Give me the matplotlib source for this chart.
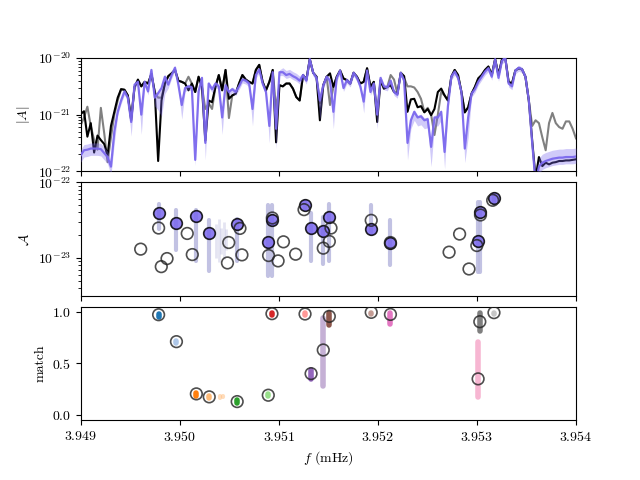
import numpy as np
import matplotlib
matplotlib.use('Agg')
import matplotlib.pyplot as plt
from matplotlib.ticker import FuncFormatter

plt.rcParams['mathtext.fontset'] = 'cm'
plt.rcParams['font.family'] = 'serif'
plt.rcParams['font.serif'] = ['cmr10']
plt.rcParams['axes.unicode_minus'] = False
plt.rcParams['axes.formatter.use_mathtext'] = True

# ---------------- data ----------------
# frequency bins (mHz)
freq = np.linspace(3.949, 3.954, 148)

# log10 |A| of data (black), alternative (gray), posterior median (purple)
black_log = [
 -20.99, -20.94, -21.39, -21.15, -21.67, -21.37, -21.45, -21.52, -21.72, -21.20,
 -20.95, -20.70, -20.55, -20.56, -20.66, -21.10, -20.51, -20.38, -20.50, -20.42,
 -20.45, -20.28, -20.60, -21.82, -20.75, -20.45, -20.32, -20.27, -20.21, -20.40,
 -20.42, -20.45, -20.57, -20.45, -20.60, -20.33, -20.51, -21.46, -20.75, -20.78,
 -20.51, -20.30, -20.57, -20.21, -20.72, -20.66, -20.63, -20.45, -20.30, -20.38,
 -20.42, -20.45, -20.21, -20.12, -20.42, -20.57, -20.42, -20.21, -21.49, -20.48,
 -20.50, -20.45, -20.45, -20.54, -20.69, -20.75, -20.30, -20.38, -20.02, -20.26,
 -20.33, -21.10, -20.48, -20.33, -20.27, -20.51, -20.33, -20.22, -20.36, -20.39,
 -20.45, -20.26, -20.33, -20.45, -20.42, -20.18, -20.51, -20.42, -21.13, -20.39,
 -20.54, -20.51, -20.48, -20.60, -20.63, -20.26, -20.32, -20.95, -20.73, -20.72,
 -20.87, -20.85, -20.96, -20.90, -21.01, -20.90, -20.60, -20.54, -20.66, -20.75,
 -20.33, -20.21, -20.30, -20.60, -20.96, -20.87, -20.63, -20.51, -20.36, -20.30,
 -20.21, -20.15, -20.30, -20.02, -20.30, -20.03, -19.99, -20.42, -20.45, -20.22,
 -20.18, -20.20, -20.33, -20.75, -21.46, -22.12, -21.75, -21.91, -21.85, -21.88,
 -21.85, -21.84, -21.82, -21.82, -21.81, -21.81, -21.80, -21.79]

gray_log = [
 -21.19, -21.05, -20.86, -21.20, -21.45, -21.62, -20.88, -21.33, -21.84, -21.40,
 -21.00, -20.75, -20.55, -20.56, -20.66, -21.05, -20.51, -20.40, -20.50, -20.42,
 -20.45, -20.28, -20.60, -20.70, -20.70, -20.45, -20.32, -20.27, -20.21, -20.40,
 -20.42, -20.45, -20.33, -20.45, -20.60, -20.33, -20.51, -20.90, -20.80, -20.90,
 -20.51, -20.30, -20.57, -20.21, -21.06, -20.66, -20.63, -20.45, -20.30, -20.38,
 -20.42, -20.45, -20.21, -20.12, -20.42, -20.57, -20.42, -20.21, -20.90, -20.48,
 -20.50, -20.45, -20.45, -20.54, -20.69, -20.75, -20.30, -20.38, -20.02, -20.26,
 -20.33, -20.80, -20.48, -20.33, -20.83, -20.51, -20.33, -20.22, -20.36, -20.39,
 -20.45, -20.26, -20.33, -20.45, -20.42, -20.18, -20.51, -20.42, -20.95, -20.39,
 -20.54, -20.51, -20.30, -20.38, -20.63, -20.26, -20.35, -20.50, -20.50, -20.52,
 -20.60, -20.72, -20.95, -20.88, -21.00, -21.36, -21.00, -20.60, -20.66, -20.75,
 -20.33, -20.21, -20.30, -20.60, -20.96, -20.87, -20.63, -20.51, -20.36, -20.30,
 -20.21, -20.15, -20.30, -20.02, -20.30, -20.03, -19.99, -20.42, -20.45, -20.22,
 -20.18, -20.20, -20.33, -20.75, -21.20, -21.10, -21.15, -21.40, -21.63, -21.15,
 -20.97, -21.15, -21.22, -21.25, -21.12, -21.12, -21.25, -21.42]

purple_log = [
 -21.72, -21.63, -21.62, -21.60, -21.60, -21.60, -21.61, -21.68, -21.75, -21.92,
 -21.30, -20.95, -20.75, -20.59, -20.70, -21.13, -20.47, -20.42, -21.00, -20.42,
 -20.59, -20.21, -20.70, -20.62, -20.53, -20.33, -20.47, -20.30, -20.17, -20.47,
 -20.83, -20.53, -20.50, -20.52, -21.80, -20.59, -20.35, -21.50, -20.45, -20.55,
 -20.45, -20.50, -21.05, -20.48, -20.60, -20.55, -20.60, -20.50, -20.38, -20.40,
 -20.45, -20.90, -20.30, -20.20, -20.45, -20.60, -21.20, -20.25, -21.25, -20.25,
 -20.25, -20.30, -20.28, -20.32, -20.35, -20.40, -20.30, -20.40, -20.02, -20.26,
 -20.35, -20.75, -20.48, -20.33, -20.40, -20.95, -20.35, -20.22, -20.53, -20.39,
 -20.45, -20.26, -20.35, -20.50, -20.77, -20.22, -20.60, -20.45, -21.00, -20.35,
 -20.50, -20.52, -20.40, -20.60, -20.65, -20.26, -20.40, -21.50, -21.10, -20.95,
 -21.05, -21.03, -21.10, -21.08, -21.57, -21.05, -21.05, -20.95, -21.66, -20.85,
 -20.33, -20.24, -20.35, -20.60, -21.60, -21.05, -20.63, -20.55, -20.42, -20.33,
 -20.24, -20.18, -20.33, -20.02, -20.35, -20.05, -19.99, -20.45, -20.50, -20.22,
 -20.17, -20.20, -20.33, -20.75, -21.50, -22.20, -21.92, -21.85, -21.82, -21.80,
 -21.78, -21.77, -21.76, -21.76, -21.75, -21.75, -21.75, -21.74]

# posterior band extent (dex below / above the median)
purple_dn = [
 0.12, 0.12, 0.12, 0.12, 0.12, 0.12, 0.12, 0.12, 0.12, 0.15,
 0.20, 0.06, 0.06, 0.06, 0.06, 0.25, 0.06, 0.06, 0.35, 0.06,
 0.06, 0.06, 0.15, 0.30, 0.50, 0.30, 0.06, 0.06, 0.06, 0.06,
 0.25, 0.06, 0.06, 0.06, 0.10, 0.06, 0.06, 0.30, 0.06, 0.06,
 0.06, 0.06, 0.30, 0.06, 0.06, 0.06, 0.06, 0.06, 0.06, 0.06,
 0.06, 0.30, 0.06, 0.06, 0.06, 0.06, 0.30, 0.06, 0.35, 0.06,
 0.06, 0.06, 0.06, 0.06, 0.06, 0.06, 0.06, 0.06, 0.06, 0.06,
 0.06, 0.35, 0.06, 0.06, 0.06, 0.30, 0.06, 0.06, 0.06, 0.06,
 0.06, 0.06, 0.06, 0.06, 0.20, 0.06, 0.06, 0.06, 0.25, 0.06,
 0.06, 0.06, 0.06, 0.06, 0.06, 0.06, 0.06, 0.30, 0.15, 0.15,
 0.15, 0.15, 0.15, 0.15, 0.35, 0.15, 0.15, 0.15, 0.30, 0.06,
 0.06, 0.06, 0.06, 0.06, 0.25, 0.35, 0.06, 0.06, 0.06, 0.06,
 0.06, 0.06, 0.06, 0.06, 0.06, 0.06, 0.06, 0.06, 0.06, 0.06,
 0.06, 0.06, 0.06, 0.06, 0.06, 0.06, 0.12, 0.12, 0.12, 0.12,
 0.12, 0.12, 0.12, 0.12, 0.12, 0.12, 0.12, 0.12]
purple_up = [
 0.10, 0.10, 0.10, 0.10, 0.10, 0.10, 0.10, 0.10, 0.10, 0.10,
 0.04, 0.04, 0.04, 0.04, 0.04, 0.04, 0.04, 0.04, 0.04, 0.04,
 0.04, 0.04, 0.04, 0.04, 0.04, 0.04, 0.04, 0.04, 0.04, 0.04,
 0.04, 0.04, 0.04, 0.04, 0.04, 0.04, 0.04, 0.04, 0.04, 0.04,
 0.04, 0.04, 0.04, 0.04, 0.04, 0.04, 0.04, 0.04, 0.04, 0.04,
 0.04, 0.04, 0.04, 0.04, 0.04, 0.04, 0.04, 0.04, 0.04, 0.04,
 0.08, 0.08, 0.08, 0.08, 0.08, 0.08, 0.04, 0.04, 0.04, 0.04,
 0.04, 0.04, 0.04, 0.04, 0.04, 0.04, 0.04, 0.04, 0.04, 0.04,
 0.04, 0.04, 0.04, 0.04, 0.04, 0.04, 0.04, 0.04, 0.04, 0.04,
 0.04, 0.04, 0.04, 0.04, 0.04, 0.04, 0.04, 0.04, 0.04, 0.04,
 0.04, 0.04, 0.04, 0.04, 0.04, 0.04, 0.04, 0.04, 0.04, 0.04,
 0.04, 0.04, 0.04, 0.04, 0.04, 0.04, 0.04, 0.04, 0.04, 0.04,
 0.04, 0.04, 0.04, 0.04, 0.04, 0.04, 0.04, 0.04, 0.04, 0.04,
 0.04, 0.04, 0.04, 0.04, 0.04, 0.04, 0.15, 0.15, 0.15, 0.15,
 0.15, 0.15, 0.15, 0.15, 0.15, 0.15, 0.15, 0.15]

# injected (true) sources: frequency (mHz), log10 amplitude
true_f = [3.949606, 3.949787, 3.949814, 3.949872, 3.950076, 3.950127, 3.950482,
          3.950495, 3.950608, 3.950628, 3.950897, 3.950935, 3.950993, 3.951047,
          3.951170, 3.951255, 3.951449, 3.951510, 3.951527, 3.951933, 3.952127,
          3.952719, 3.952825, 3.952920, 3.952999, 3.953036, 3.953159]
true_logA = [-22.884, -22.604, -23.116, -23.009, -22.676, -22.956, -23.067,
             -22.796, -22.609, -22.960, -22.969, -22.471, -23.040, -22.787,
             -22.951, -22.360, -22.871, -22.782, -22.604, -22.502, -22.796,
             -22.924, -22.684, -23.147, -22.836, -22.431, -22.236]

# recovered sources
rec_f = [3.949787, 3.949967, 3.950168, 3.950298, 3.950580, 3.950894, 3.950931,
         3.951265, 3.951326, 3.951449, 3.951510, 3.951933, 3.952127, 3.953012,
         3.953029, 3.953172]
rec_logA = [-22.409, -22.533, -22.449, -22.667, -22.556, -22.787, -22.498,
            -22.298, -22.600, -22.640, -22.462, -22.622, -22.796, -22.778,
            -22.387, -22.204]
# posterior sample extent in amplitude (log10)
samp_logA_lo = [-22.62, -22.90, -23.04, -23.17, -23.04, -23.24, -23.24, -22.35,
                -23.04, -23.08, -23.04, -22.68, -23.10, -23.19, -23.19, -22.28]
samp_logA_hi = [-22.28, -22.37, -22.37, -22.50, -22.48, -22.30, -22.30, -22.24,
                -22.41, -22.46, -22.28, -22.30, -22.50, -22.26, -22.26, -22.15]
# diffuse extra samples (light orange source)
extra_f = [3.950370, 3.950395, 3.950420, 3.950445, 3.950470]
extra_logA_lo = [-23.00, -23.06, -22.95, -23.02, -22.90]
extra_logA_hi = [-22.55, -22.48, -22.60, -22.52, -22.62]

# match of each recovered source and sample extent
match = [0.974, 0.712, 0.204, 0.175, 0.129, 0.191, 0.984, 0.981, 0.401, 0.631,
         0.958, 0.997, 0.977, 0.350, 0.906, 0.994]
match_lo = [0.955, 0.70, 0.185, 0.165, 0.115, 0.18, 0.97, 0.97, 0.35, 0.28,
            0.87, 0.985, 0.88, 0.17, 0.82, 0.985]
match_hi = [0.985, 0.72, 0.21, 0.185, 0.14, 0.20, 0.99, 0.99, 0.44, 0.94,
            0.99, 0.995, 0.99, 0.71, 0.99, 0.995]
smudge_f = [3.950410, 3.950440]
smudge_lo = [0.165, 0.17]
smudge_hi = [0.18, 0.185]

# ---------------- plot ----------------
fig, axes = plt.subplots(3, 1, sharex=True, figsize=(6.4, 4.8), dpi=100)
fig.subplots_adjust(left=0.126, right=0.9, top=0.879, bottom=0.125, hspace=0.1)
ax1, ax2, ax3 = axes

purple = '#7b68ee'
blk = np.array(black_log)
gry = np.array(gray_log)
pm = np.array(purple_log)
lo = pm - np.array(purple_dn)
hi = pm + np.array(purple_up)

ax1.plot(freq, 10 ** gry, color='gray', lw=1.5, zorder=1)
ax1.plot(freq, 10 ** blk, color='black', lw=1.5, zorder=2)
ax1.fill_between(freq, 10 ** lo, 10 ** hi, color=purple, alpha=0.35, lw=0, zorder=3)
ax1.plot(freq, 10 ** pm, color=purple, lw=1.6, alpha=0.95, zorder=4)
ax1.set_yscale('log')
ax1.set_ylim(1e-22, 1e-20)
ax1.set_ylabel(r'$|A|$')

# middle panel
ax2.vlines(rec_f, 10 ** np.array(samp_logA_lo), 10 ** np.array(samp_logA_hi),
           color='#bcbce0', lw=3.0, alpha=0.9, zorder=1, capstyle='round')
ax2.vlines(extra_f, 10 ** np.array(extra_logA_lo), 10 ** np.array(extra_logA_hi),
           color='#bcbce0', lw=2.0, alpha=0.4, zorder=1)
ax2.scatter(rec_f, 10 ** np.array(rec_logA), s=70, facecolor=purple,
            edgecolor='black', lw=1.2, alpha=0.85, zorder=3)
ax2.scatter(true_f, 10 ** np.array(true_logA), s=70, facecolor='none',
            edgecolor='#222222', lw=1.2, alpha=0.8, zorder=4)
ax2.set_yscale('log')
ax2.set_ylim(10 ** -23.5, 1e-22)
ax2.set_ylabel(r'$\mathcal{A}$')

# bottom panel
colors = [plt.cm.tab20(i) for i in range(16)]
ax3.vlines(rec_f, match_lo, match_hi, colors=colors, lw=4.0, zorder=1,
           capstyle='round')
ax3.vlines(smudge_f, smudge_lo, smudge_hi, colors=[colors[3]] * 2, lw=3.0,
           alpha=0.5, zorder=1, capstyle='round')
ax3.scatter(rec_f, match, s=70, facecolor='none', edgecolor='#222222',
            lw=1.2, alpha=0.8, zorder=3)
ax3.set_ylim(-0.05, 1.05)
ax3.set_yticks([0.0, 0.5, 1.0])
ax3.yaxis.set_major_formatter(FuncFormatter(lambda v, p: r'$%.1f$' % v))
ax3.set_ylabel('match')
ax3.set_xlim(3.949, 3.954)
ax3.set_xticks([3.949, 3.950, 3.951, 3.952, 3.953, 3.954])
ax3.xaxis.set_major_formatter(FuncFormatter(lambda v, p: r'$%.3f$' % v))
ax3.set_xlabel(r'$f$ (mHz)')

fig.savefig('out.png', dpi=100)
